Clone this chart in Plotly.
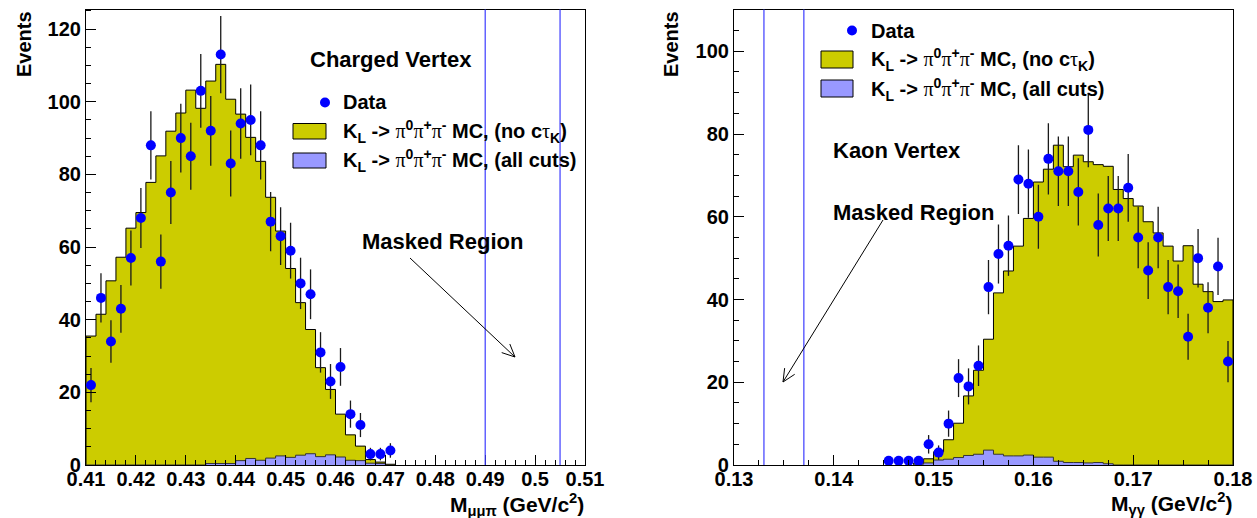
import math
import plotly.graph_objects as go

W, H = 1257, 518

# ---------------- data ----------------
# Left panel: M(mu mu pi), bins of 0.002 starting at 0.410
left_bin_start = 0.410
left_bin_width = 0.002
left_mc_nocut = [35.5, 41.5, 50.7, 57.2, 65.2, 69.5, 77.8, 85.1, 91.9, 96.9,
                 103.2, 98.2, 105.7, 110.3, 100.7, 96.6, 90.2, 83.6, 73.7, 64.4,
                 54.1, 44.7, 37.3, 26.8, 20.8, 14.0, 8.3, 5.2, 1.5, 0.8, 0.2]
left_mc_cuts = [0, 0, 0, 0, 0, 0, 0, 0, 0, 0,
                0, 0, 0.4, 0.4, 0.4, 1.2, 1.8, 1.3, 1.9, 2.5,
                2.1, 2.7, 3.1, 2.3, 2.8, 2.2, 1.3, 1.2, 0.5, 0.4, 0]
left_data_x = [0.411, 0.413, 0.415, 0.417, 0.419, 0.421, 0.423, 0.425, 0.427, 0.429,
               0.431, 0.433, 0.435, 0.437, 0.439, 0.441, 0.443, 0.445, 0.447, 0.449,
               0.451, 0.453, 0.455, 0.457, 0.459, 0.461, 0.463, 0.465, 0.467, 0.469, 0.471]
left_data_y = [22, 46, 34, 43, 57, 68, 88, 56, 75, 90,
               85, 103, 92, 113, 83, 94, 95, 88, 67, 63,
               59, 50, 47, 31, 23, 27, 14, 11, 3, 3, 4]
left_mask = [0.490, 0.505]
left_xticks = [0.41, 0.42, 0.43, 0.44, 0.45, 0.46, 0.47, 0.48, 0.49, 0.50, 0.51]
left_xticktext = ["0.41", "0.42", "0.43", "0.44", "0.45", "0.46", "0.47", "0.48", "0.49", "0.5", "0.51"]
left_yticks = [0, 20, 40, 60, 80, 100, 120]

# Right panel: M(gamma gamma), bins of 0.001 starting at 0.148
right_bin_start = 0.148
right_bin_width = 0.001
right_mc_nocut = [0.5, 1.5, 3.2, 6.1, 10.1, 16.7, 22.9, 30.4, 41.6, 46.9,
                  52.9, 59.6, 68.4, 71.5, 77.3, 72.1, 74.9, 73.3, 72.6, 72.2,
                  66.6, 64.4, 62.6, 58.8, 56.1, 52.9, 49.3, 53.0, 43.7, 41.9,
                  39.5, 39.9]
right_mc_cuts = [0.2, 0.5, 1.2, 1.4, 1.8, 2.3, 2.6, 3.6, 2.6, 2.2,
                 2.2, 2.4, 1.9, 1.9, 0.9, 0.6, 0.6, 0.5, 0.6, 0.3,
                 0, 0, 0, 0, 0, 0, 0, 0, 0, 0, 0, 0]
right_data_x = [0.1455, 0.1465, 0.1475, 0.1485, 0.1495, 0.1505, 0.1515, 0.1525, 0.1535, 0.1545,
                0.1555, 0.1565, 0.1575, 0.1585, 0.1595, 0.1605, 0.1615, 0.1625, 0.1635, 0.1645,
                0.1655, 0.1665, 0.1675, 0.1685, 0.1695, 0.1705, 0.1715, 0.1725, 0.1735, 0.1745,
                0.1755, 0.1765, 0.1775, 0.1785, 0.1795]
right_data_y = [1, 1, 1, 1, 5, 3, 10, 21, 19, 24,
                43, 51, 53, 69, 68, 60, 74, 71, 71, 66,
                81, 58, 62, 62, 67, 55, 47, 55, 43, 42,
                31, 50, 38, 48, 25]
right_mask = [0.133, 0.137]
right_xticks = [0.13, 0.14, 0.15, 0.16, 0.17, 0.18]
right_xticktext = ["0.13", "0.14", "0.15", "0.16", "0.17", "0.18"]
right_yticks = [0, 20, 40, 60, 80, 100]

YELLOW = "rgb(204,204,0)"
PURPLE = "rgb(153,153,255)"
BLUE = "rgb(0,0,255)"
FONT = "Liberation Sans"
SERIF = "font-family:Liberation Serif;font-weight:normal"


def step_xy(start, width, vals):
    xs = [start]
    ys = [0]
    for i, v in enumerate(vals):
        xs.append(start + i * width)
        ys.append(v)
    xs.append(start + len(vals) * width)
    ys.append(vals[-1])
    xs.append(start + len(vals) * width)
    ys.append(0)
    return xs, ys


def px(x):
    return x / W


def py(y):
    return 1 - y / H


fig = go.Figure()

for (start, width, vals, color, lc, xa, ya) in [
    (left_bin_start, left_bin_width, left_mc_nocut, YELLOW, "black", "x", "y"),
    (left_bin_start, left_bin_width, left_mc_cuts, PURPLE, "#333333", "x", "y"),
    (right_bin_start, right_bin_width, right_mc_nocut, YELLOW, "black", "x2", "y2"),
    (right_bin_start, right_bin_width, right_mc_cuts, PURPLE, "#333333", "x2", "y2"),
]:
    xs, ys = step_xy(start, width, vals)
    fig.add_trace(go.Scatter(x=xs, y=ys, mode="lines", line=dict(shape="hv", color=lc, width=1),
                             fill="tozeroy", fillcolor=color, xaxis=xa, yaxis=ya,
                             showlegend=False, hoverinfo="skip"))

for (dx, dy, xa, ya) in [(left_data_x, left_data_y, "x", "y"),
                         (right_data_x, right_data_y, "x2", "y2")]:
    fig.add_trace(go.Scatter(x=dx, y=dy, mode="markers",
                             marker=dict(color=BLUE, size=10, line=dict(width=0)),
                             error_y=dict(type="data", array=[math.sqrt(v) for v in dy],
                                          color="#1a1a1a", thickness=1.3, width=0),
                             xaxis=xa, yaxis=ya, showlegend=False))

tickfont = dict(family=FONT, size=20, color="black", weight="bold")
ydom = [1 - 465 / H, 1 - 9.5 / H]


def xaxis_cfg(dom, rng, tv, tt, minor_dt):
    return dict(domain=dom, range=rng, tickvals=tv, ticktext=tt, ticks="inside", ticklen=10,
                tickwidth=1, tickcolor="black", showgrid=False, zeroline=False,
                showline=True, linecolor="black", linewidth=1.2, mirror=True,
                tickfont=tickfont, automargin=False, ticklabelstandoff=-4,
                minor=dict(dtick=minor_dt, tick0=rng[0], ticks="inside", ticklen=5,
                           tickwidth=1, tickcolor="black", showgrid=False))


def yaxis_cfg(rng, tv, anchor):
    return dict(domain=ydom, range=rng, tickvals=tv, ticks="inside", ticklen=10, tickwidth=1,
                tickcolor="black", showgrid=False, zeroline=False, showline=True,
                linecolor="black", linewidth=1.2, mirror=True, tickfont=tickfont,
                anchor=anchor, automargin=False,
                minor=dict(dtick=5, tick0=0, ticks="inside", ticklen=5, tickwidth=1,
                           tickcolor="black", showgrid=False))


fig.update_layout(
    width=W, height=H, autosize=False,
    margin=dict(l=0, r=0, t=0, b=0, autoexpand=False),
    paper_bgcolor="white", plot_bgcolor="white",
    xaxis=xaxis_cfg([86 / W, 585 / W], [0.41, 0.51], left_xticks, left_xticktext, 0.002),
    yaxis=yaxis_cfg([0, 125.4], left_yticks, "x"),
    xaxis2=dict(xaxis_cfg([734 / W, 1233 / W], [0.13, 0.18], right_xticks, right_xticktext, 0.0025),
                anchor="y2"),
    yaxis2=yaxis_cfg([0, 110.1], right_yticks, "x2"),
)

shapes = []
# masked region lines
for v in left_mask:
    shapes.append(dict(type="line", xref="x", yref="y domain", x0=v, x1=v, y0=0, y1=1,
                       line=dict(color="rgb(60,60,255)", width=1.2)))
for v in right_mask:
    shapes.append(dict(type="line", xref="x2", yref="y2 domain", x0=v, x1=v, y0=0, y1=1,
                       line=dict(color="rgb(60,60,255)", width=1.2)))


def arrow(x0, y0, x1, y1, L=14, ang=25):
    out = [dict(type="line", xref="paper", yref="paper", x0=px(x0), y0=py(y0), x1=px(x1), y1=py(y1),
                line=dict(color="black", width=1))]
    dx, dy = x0 - x1, y0 - y1
    n = math.hypot(dx, dy)
    ux, uy = dx / n, dy / n
    for s in (1, -1):
        a = math.radians(ang * s)
        rx = ux * math.cos(a) - uy * math.sin(a)
        ry = ux * math.sin(a) + uy * math.cos(a)
        out.append(dict(type="line", xref="paper", yref="paper", x0=px(x1), y0=py(y1),
                        x1=px(x1 + L * rx), y1=py(y1 + L * ry), line=dict(color="black", width=1)))
    return out


shapes += arrow(410, 258, 515, 357)
shapes += arrow(883, 220, 783, 382)


# legend symbols
def legend_shapes(dot_x, dot_y, bx0, bx1, by):
    out = [dict(type="circle", xref="paper", yref="paper",
                x0=px(dot_x - 5), x1=px(dot_x + 5), y0=py(dot_y - 5), y1=py(dot_y + 5),
                fillcolor=BLUE, line=dict(width=0))]
    for (y0, y1), c in zip(by, [YELLOW, PURPLE]):
        out.append(dict(type="rect", xref="paper", yref="paper", x0=px(bx0), x1=px(bx1),
                        y0=py(y1), y1=py(y0), fillcolor=c, line=dict(color="black", width=1)))
    return out


shapes += legend_shapes(325, 102.5, 293, 326, [(123.5, 139), (153, 168)])
shapes += legend_shapes(852, 30.5, 821, 853, [(51, 68), (80, 97)])
fig.update_layout(shapes=shapes)

pi = f"<span style='{SERIF}'>π</span>"
tau = f"<span style='{SERIF}'>τ</span>"
k1 = f"K<sub>L</sub> -&gt; {pi}<sup>0</sup>{pi}<sup>+</sup>{pi}<sup>-</sup> MC, (no c{tau}<sub>K</sub>)"
k2 = f"K<sub>L</sub> -&gt; {pi}<sup>0</sup>{pi}<sup>+</sup>{pi}<sup>-</sup> MC, (all cuts)"


def ann(text, x, y, size=20, xanchor="left", yanchor="middle", angle=0):
    return dict(text=text, x=px(x), y=py(y), xref="paper", yref="paper", showarrow=False,
                xanchor=xanchor, yanchor=yanchor, textangle=angle,
                font=dict(family=FONT, size=size, color="black", weight="bold"))


anns = [
    ann("Events", 24, 9, size=20, xanchor="center", yanchor="top", angle=-90),
    ann("Events", 671, 9, size=20, xanchor="center", yanchor="top", angle=-90),
    ann("M<sub>μμπ</sub> (GeV/c<sup>2</sup>)", 586, 504, size=21, xanchor="right"),
    ann("M<sub>γγ</sub> (GeV/c<sup>2</sup>)", 1234, 503, size=21, xanchor="right"),
    ann("Charged Vertex", 308, 59, size=22),
    ann("Masked Region", 360, 241, size=22),
    ann("Kaon Vertex", 831, 150, size=22),
    ann("Masked Region", 831, 212, size=22),
    ann("Data", 341, 102),
    ann(k1, 341, 132),
    ann(k2, 341, 161),
    ann("Data", 869, 31),
    ann(k1, 869, 60),
    ann(k2, 869, 89),
]
fig.update_layout(annotations=anns)

fig.write_html("out.html", config={"displayModeBar": False},
               post_script="document.body.style.margin='0';document.body.style.padding='0';")
